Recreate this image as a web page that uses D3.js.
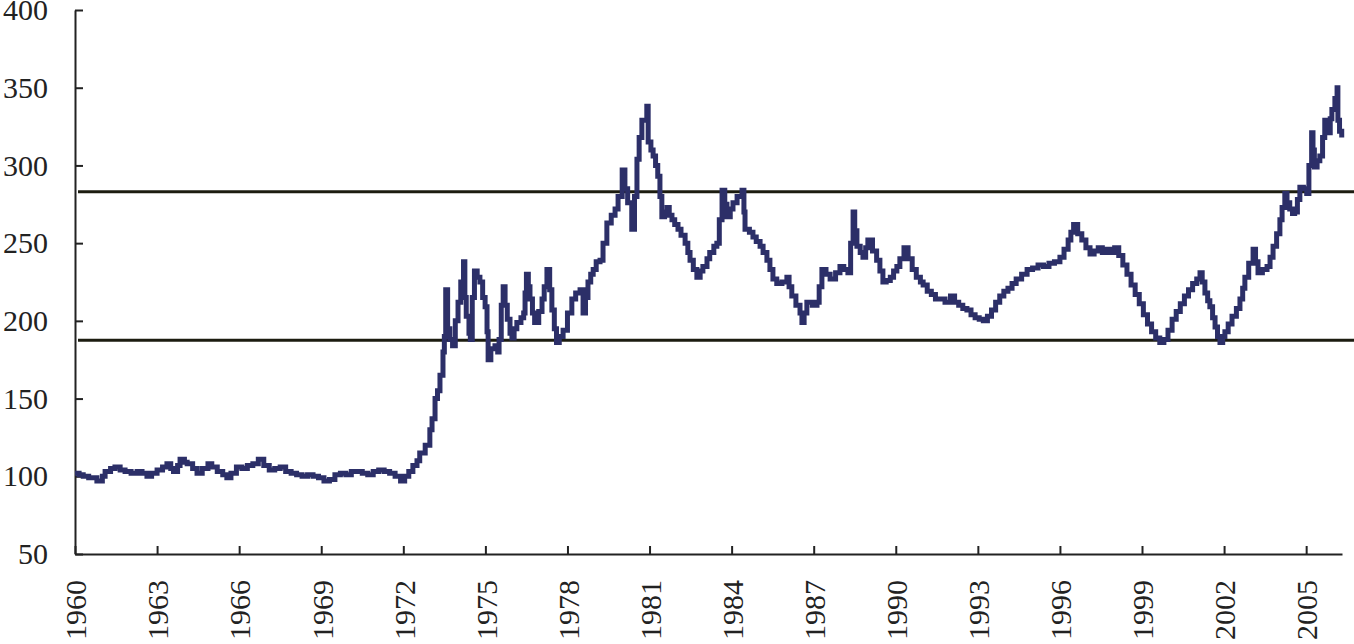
<!DOCTYPE html>
<html>
<head>
<meta charset="utf-8">
<script src="https://cdn.jsdelivr.net/npm/d3@7"></script>
<style>
  body { margin: 0; background: #fff; }
  .axis text { font-family: "Liberation Serif", "Times New Roman", serif; font-size: 30px; fill: #222; }
  .axis path, .axis line { stroke: #222; stroke-width: 2px; }
</style>
</head>
<body>
<div id="chart"></div>
<script>
// Price index as [year, value]
var era1960 = [[1960.0,102],[1960.15,101],[1960.3,100],[1960.5,99],[1960.8,97],[1961.0,100],[1961.1,103],[1961.3,105],[1961.46,106],[1961.65,104],[1961.83,103],[1962.05,102],[1962.27,103],[1962.45,102],[1962.63,100],[1962.8,102],[1963.0,104],[1963.2,106],[1963.36,108],[1963.5,105],[1963.6,103],[1963.75,107],[1963.84,111],[1964.0,109],[1964.1,108],[1964.3,105],[1964.46,102],[1964.65,105],[1964.86,108],[1965.0,106],[1965.2,103],[1965.4,101],[1965.55,99],[1965.7,102],[1965.9,106],[1966.1,105],[1966.3,107],[1966.5,108],[1966.7,111],[1966.9,107],[1967.1,104],[1967.3,105],[1967.5,106],[1967.7,103],[1967.9,102],[1968.1,101],[1968.3,100],[1968.5,101],[1968.7,100],[1968.9,99],[1969.1,97],[1969.3,98],[1969.5,101],[1969.7,102],[1969.9,101],[1970.1,103],[1970.3,103],[1970.5,102],[1970.7,101],[1970.9,103],[1971.1,104],[1971.3,103],[1971.5,102],[1971.7,100],[1971.9,97],[1972.05,100],[1972.2,103]];

var era1972 = [[1972.35,107],[1972.5,110],[1972.6,115],[1972.8,120],[1972.97,130],[1973.05,137],[1973.16,150],[1973.25,155],[1973.34,165],[1973.45,180],[1973.5,190],[1973.55,220],[1973.62,195],[1973.7,188],[1973.8,184],[1973.9,200],[1974.0,212],[1974.1,225],[1974.2,238],[1974.25,215],[1974.3,203],[1974.4,192],[1974.45,188],[1974.52,215],[1974.6,232],[1974.7,228],[1974.8,225],[1974.9,215],[1974.99,209],[1975.06,193],[1975.1,175],[1975.2,182],[1975.35,184],[1975.45,180],[1975.5,188],[1975.58,210],[1975.65,222],[1975.72,210],[1975.8,201],[1975.9,192],[1975.97,189],[1976.05,195],[1976.15,199],[1976.3,202],[1976.4,205],[1976.45,218],[1976.5,230],[1976.57,222],[1976.63,214],[1976.72,205],[1976.8,199],[1976.95,206],[1977.07,214],[1977.15,222],[1977.25,233],[1977.35,220],[1977.43,207],[1977.52,195],[1977.6,186],[1977.7,190],[1977.84,194],[1978.0,205],[1978.16,214],[1978.3,218],[1978.46,220],[1978.57,205],[1978.66,215],[1978.75,225],[1978.85,230],[1978.94,233],[1979.05,238],[1979.19,239],[1979.3,250],[1979.44,263],[1979.6,268],[1979.74,272],[1979.85,280],[1980.0,297],[1980.1,285],[1980.2,276],[1980.35,259],[1980.45,280],[1980.54,304],[1980.62,318],[1980.72,329],[1980.9,338],[1980.95,315]];

var era1981 = [[1981.05,310],[1981.13,306],[1981.22,300],[1981.3,293],[1981.38,280],[1981.45,267],[1981.55,270],[1981.64,273],[1981.72,268],[1981.82,265],[1981.92,262],[1982.04,259],[1982.15,255],[1982.3,250],[1982.4,244],[1982.48,239],[1982.6,233],[1982.73,228],[1982.85,232],[1982.95,235],[1983.1,240],[1983.2,244],[1983.35,248],[1983.46,250],[1983.55,265],[1983.65,284],[1983.75,275],[1983.83,267],[1983.95,272],[1984.05,276],[1984.2,280],[1984.38,284],[1984.45,270],[1984.49,259],[1984.65,257],[1984.78,254],[1984.9,251],[1985.04,248],[1985.15,244],[1985.29,239],[1985.4,233],[1985.51,227],[1985.65,224],[1985.84,225],[1986.02,228],[1986.1,222],[1986.2,216],[1986.35,210],[1986.5,205],[1986.57,199],[1986.65,205],[1986.75,212],[1986.95,210],[1987.12,212],[1987.2,222],[1987.3,233],[1987.45,230],[1987.6,227],[1987.8,231],[1987.96,235],[1988.1,233],[1988.25,231],[1988.35,250],[1988.44,270],[1988.5,258],[1988.58,248],[1988.7,244],[1988.8,241],[1988.9,247],[1988.98,252],[1989.15,245],[1989.3,239],[1989.42,232],[1989.53,225],[1989.65,226],[1989.8,228],[1989.92,232],[1990.04,235]];

var era1990 = [[1990.15,240],[1990.3,247],[1990.45,240],[1990.6,233],[1990.75,228],[1990.9,225],[1991.0,223],[1991.15,219],[1991.3,217],[1991.45,214],[1991.6,214],[1991.8,212],[1992.0,216],[1992.15,212],[1992.3,210],[1992.45,208],[1992.6,207],[1992.75,204],[1992.9,202],[1993.05,201],[1993.2,200],[1993.35,203],[1993.5,207],[1993.65,212],[1993.8,216],[1993.95,219],[1994.1,221],[1994.25,224],[1994.4,227],[1994.6,230],[1994.8,233],[1995.0,234],[1995.2,236],[1995.4,235],[1995.6,237],[1995.8,238],[1996.0,241],[1996.15,246],[1996.3,252],[1996.4,257],[1996.5,262],[1996.65,256],[1996.8,252],[1996.95,247],[1997.1,243],[1997.25,245],[1997.4,247],[1997.55,244],[1997.7,246],[1997.85,244],[1998.0,247],[1998.15,242],[1998.3,236],[1998.45,230],[1998.6,223],[1998.75,217],[1998.9,211],[1999.05,204],[1999.2,198],[1999.35,193],[1999.5,189],[1999.65,186],[1999.8,188],[1999.95,194]];

var era2000 = [[2000.1,201],[2000.25,206],[2000.4,211],[2000.55,216],[2000.7,220],[2000.85,224],[2001.0,227],[2001.12,231],[2001.2,225],[2001.3,218],[2001.4,213],[2001.48,209],[2001.58,202],[2001.67,196],[2001.76,190],[2001.85,186],[2001.95,190],[2002.03,193],[2002.15,198],[2002.29,203],[2002.45,208],[2002.58,214],[2002.68,221],[2002.76,228],[2002.9,237],[2003.06,246],[2003.15,238],[2003.24,231],[2003.4,233],[2003.57,235],[2003.68,241],[2003.79,248],[2003.92,256],[2004.04,265],[2004.12,273],[2004.22,282],[2004.3,276],[2004.4,272],[2004.5,269],[2004.58,270],[2004.68,278],[2004.77,286],[2004.9,285],[2005.02,282],[2005.1,300],[2005.2,321],[2005.25,310],[2005.3,299],[2005.4,303],[2005.5,306],[2005.6,318],[2005.68,329],[2005.75,325],[2005.8,321],[2005.88,330],[2005.94,336],[2006.05,343],[2006.13,350],[2006.16,329],[2006.22,322],[2006.3,318]];

// Reference bands and axis ticks
var bandLevels = [283, 187.5];
var yTicks = [50, 100, 150, 200, 250, 300, 350, 400];
var xTicks = [1960, 1963, 1966, 1969, 1972, 1975, 1978, 1981, 1984, 1987, 1990, 1993, 1996, 1999, 2002, 2005];

var series = era1960.concat(era1972, era1981, era1990, era2000);

var W = 1354, H = 644;

var svg = d3.select("#chart")
    .append("svg")
    .attr("width", W)
    .attr("height", H);

var x = d3.scaleLinear()
    .domain([1960, 2006.31])
    .range([75, 1342]);

var y = d3.scaleLinear()
    .domain([50, 400])
    .range([554, 10]);

// Y axis
svg.append("g")
    .attr("class", "axis")
    .attr("transform", "translate(" + x(1960) + ",0)")
    .call(d3.axisLeft(y).tickValues(yTicks).tickSize(-8).tickSizeOuter(0).tickPadding(27).tickFormat(d3.format("d")));

// X axis, labels turned upright
var xAxis = svg.append("g")
    .attr("class", "axis")
    .attr("transform", "translate(0," + y(50) + ")")
    .call(d3.axisBottom(x).tickValues(xTicks).tickSize(-8).tickSizeOuter(0).tickFormat(d3.format("d")));

xAxis.selectAll("text")
    .attr("transform", "rotate(-90)")
    .attr("text-anchor", "end")
    .attr("x", -26)
    .attr("y", 0)
    .attr("dy", "0.36em");

// Horizontal reference lines
svg.selectAll(".band")
    .data(bandLevels)
    .enter()
    .append("line")
    .attr("class", "band")
    .attr("x1", x(1960) + 3)
    .attr("x2", W)
    .attr("y1", function(d) { return y(d); })
    .attr("y2", function(d) { return y(d); })
    .style("stroke", "#1c1c10")
    .style("stroke-width", 3);

// The price line
var line = d3.line()
    .x(function(d) { return x(d[0]); })
    .y(function(d) { return y(d[1]); })
    .curve(d3.curveStepAfter);

svg.append("path")
    .datum(series)
    .attr("d", line)
    .style("fill", "none")
    .style("stroke", "#2c2f68")
    .style("stroke-width", 5)
    .style("stroke-linejoin", "miter");
</script>
</body>
</html>
